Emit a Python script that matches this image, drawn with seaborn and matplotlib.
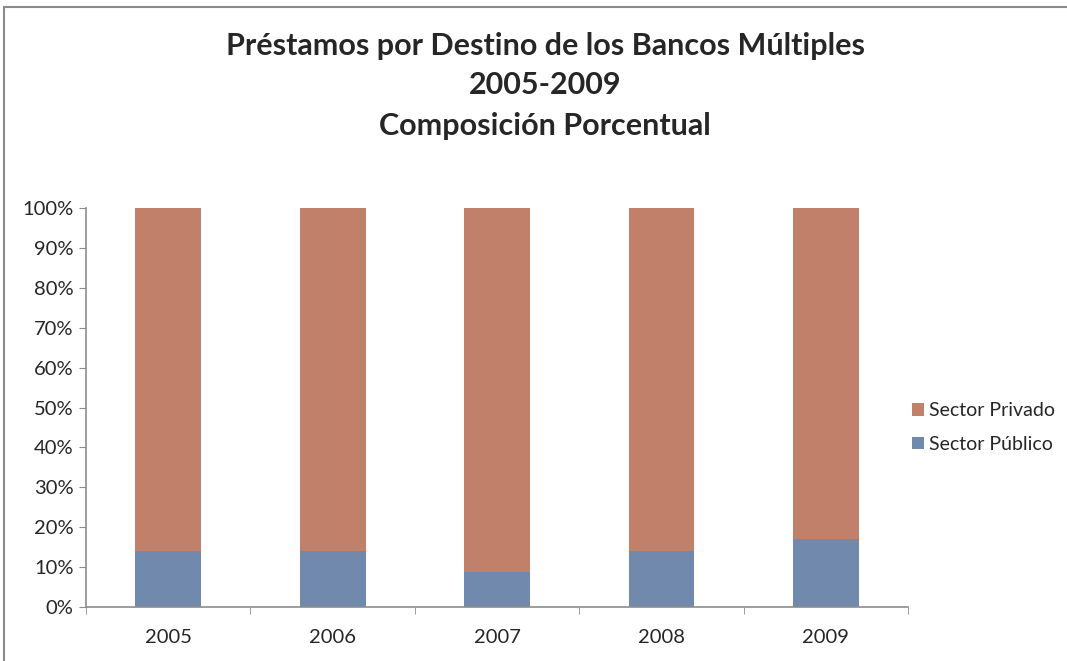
import numpy as np
import pandas as pd
import seaborn as sns
from matplotlib import pyplot as plt
from matplotlib.patches import Rectangle
from matplotlib.ticker import FixedLocator, PercentFormatter

years = ['2005', '2006', '2007', '2008', '2009']
sector_publico = [14.0, 14.0, 8.8, 14.0, 17.1]
sector_privado = [86.0, 86.0, 91.2, 86.0, 82.9]

color_privado = '#C1806A'
color_publico = '#7089AD'

sns.set_style('white')
plt.rcParams['font.family'] = ['Lato', 'DejaVu Sans']

df = pd.DataFrame({'year': years, 'publico': sector_publico, 'privado': sector_privado})
df['total'] = df['publico'] + df['privado']

fig = plt.figure(figsize=(10.67, 6.61), dpi=100)
ax = fig.add_axes([0.0806, 0.0817, 0.7705, 0.6036])

sns.barplot(data=df, x='year', y='total', color=color_privado, width=0.4,
            saturation=1, linewidth=0, ax=ax, label='Sector Privado')
sns.barplot(data=df, x='year', y='publico', color=color_publico, width=0.4,
            saturation=1, linewidth=0, ax=ax, label='Sector Público')

ax.set_xlim(-0.5, len(years) - 0.5)
ax.set_ylim(0, 100)
ax.set_xlabel('')
ax.set_ylabel('')
ax.yaxis.set_major_locator(FixedLocator(np.arange(0, 101, 10)))
ax.yaxis.set_major_formatter(PercentFormatter(decimals=0))
ax.xaxis.set_minor_locator(FixedLocator(np.arange(-0.5, len(years), 1)))

for side in ['top', 'right']:
    ax.spines[side].set_visible(False)
for side in ['left', 'bottom']:
    ax.spines[side].set_color('#8C8C8C')
    ax.spines[side].set_linewidth(1.2)

ax.tick_params(axis='y', which='major', left=True, length=5, color='#8C8C8C',
               labelsize=14.5, pad=4)
ax.tick_params(axis='x', which='major', bottom=False, labelsize=14.5, pad=12)
ax.tick_params(axis='x', which='minor', bottom=True, length=5, color='#8C8C8C')

handles, labels = ax.get_legend_handles_labels()
if ax.get_legend():
    ax.get_legend().remove()
fig.legend(handles, labels, loc='center left', bbox_to_anchor=(0.844, 0.353),
           frameon=False, fontsize=14, handlelength=0.6, handleheight=0.6,
           handletextpad=0.25, labelspacing=0.85, borderaxespad=0.2)

fig.text(0.511, 0.93, 'Préstamos por Destino de los Bancos Múltiples',
         ha='center', va='center', fontsize=22, fontweight='bold')
fig.text(0.511, 0.871, '2005-2009', ha='center', va='center', fontsize=22, fontweight='bold')
fig.text(0.511, 0.81, 'Composición Porcentual', ha='center', va='center',
         fontsize=22, fontweight='bold')

fig.patches.append(Rectangle((0.004, -0.01), 1.2, 1.0, transform=fig.transFigure,
                             fill=False, edgecolor='#8C8C8C', linewidth=1.5))

fig.savefig('out.png', dpi=100)
